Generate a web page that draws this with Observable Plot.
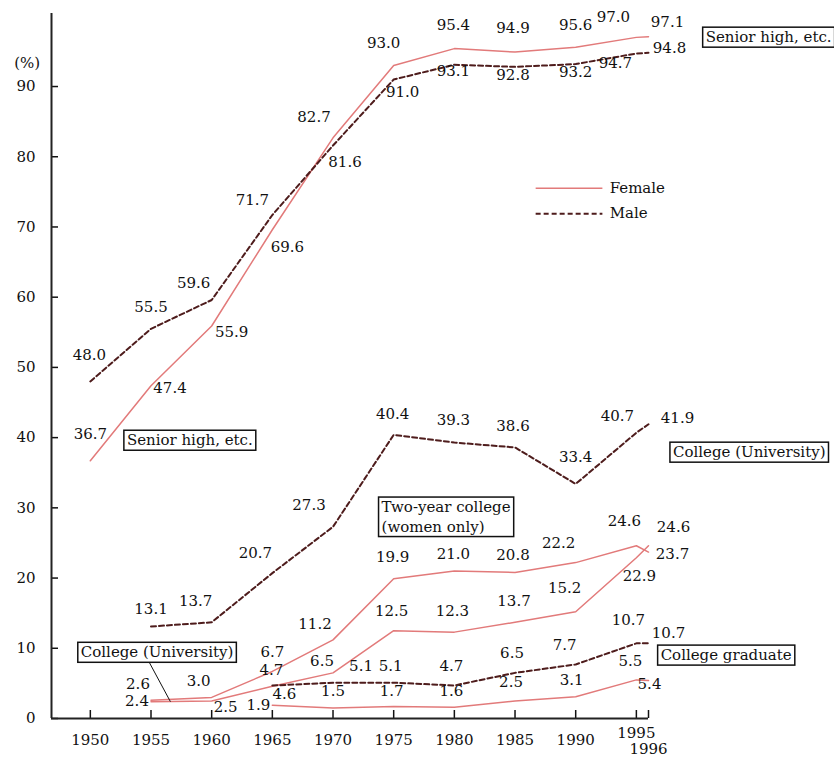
<!DOCTYPE html>
<html><head><meta charset="utf-8">
<script src="https://cdn.jsdelivr.net/npm/d3@7"></script>
<script src="https://cdn.jsdelivr.net/npm/@observablehq/plot@0.6"></script>
<style>html,body{margin:0;padding:0;background:#fff;}</style>
</head><body><div id="chart"></div>
<script>
// ---- data ----
const years = [1950, 1955, 1960, 1965, 1970, 1975, 1980, 1985, 1990, 1995, 1996];
const seniorFemale = [36.7, 47.4, 55.9, 69.6, 82.7, 93.0, 95.4, 94.9, 95.6, 97.0, 97.1];
const seniorMale   = [48.0, 55.5, 59.6, 71.7, 81.6, 91.0, 93.1, 92.8, 93.2, 94.7, 94.8];
const univMale     = [null, 13.1, 13.7, 20.7, 27.3, 40.4, 39.3, 38.6, 33.4, 40.7, 41.9];
const univFemale   = [null, 2.4, 2.5, 4.6, 6.5, 12.5, 12.3, 13.7, 15.2, 22.9, 24.6];
const twoYearFemale= [null, 2.6, 3.0, 6.7, 11.2, 19.9, 21.0, 20.8, 22.2, 24.6, 23.7];
const gradMale     = [null, null, null, 4.7, 5.1, 5.1, 4.7, 6.5, 7.7, 10.7, 10.7];
const gradFemale   = [null, null, null, 1.9, 1.5, 1.7, 1.6, 2.5, 3.1, 5.5, 5.4];
const xTicksMain = [1950, 1955, 1960, 1965, 1970, 1975, 1980, 1985, 1990];
const yTicks = [0, 10, 20, 30, 40, 50, 60, 70, 80, 90];
const legendItems = ["Female", "Male"];

// ---- layout (label offsets in px, annotation placement) ----
const offSeniorFemale = [[0,-27],[19,3],[20,6],[15,17],[-19,-21],[-10,-22],[-1,-23],[-2,-24],[0,-22],[-23,-20],[19,-14]];
const offSeniorMale   = [[-1,-26],[0,-22],[-18,-17],[-20,-15],[12,17],[9,13],[-1,6],[-2,8],[0,8],[-21,10],[21,-5]];
const offUnivMale     = [null,[0,-17],[-16,-21],[-17,-20],[-24,-22],[-1,-21],[-1,-22],[-2,-21],[0,-27],[-19,-17],[29,-6]];
const offUnivFemale   = [null,[-14,0],[14,6],[12,8],[-11,-12],[-2,-20],[-2,-21],[-1,-21],[-11,-24],[3,18],[25,-19]];
const offTwoYear      = [null,[-13,-16],[-13,-16],[0,-19],[-18,-16],[-1,-22],[-1,-17],[-2,-17],[-17,-19],[-12,-25],[24,2]];
const offGradMale     = [null,null,null,[-1,-15],[28,-17],[-3,-17],[-3,-19],[-3,-20],[-11,-19],[-8,-23],[20,-10]];
const offGradFemale   = [null,null,null,[-14,0],[0,-17],[-2,-15],[-3,-16],[-4,-19],[-4,-17],[-6,-19],[1,4]];

const FEMALE = "#e27a7a", MALE = "#4e1c1c", INK = "#111";

const seriesDefs = [
  {key: "seniorFemale", sex: "Female", values: seniorFemale, off: offSeniorFemale},
  {key: "seniorMale", sex: "Male", values: seniorMale, off: offSeniorMale},
  {key: "univMale", sex: "Male", values: univMale, off: offUnivMale},
  {key: "univFemale", sex: "Female", values: univFemale, off: offUnivFemale},
  {key: "twoYear", sex: "Female", values: twoYearFemale, off: offTwoYear},
  {key: "gradMale", sex: "Male", values: gradMale, off: offGradMale},
  {key: "gradFemale", sex: "Female", values: gradFemale, off: offGradFemale}
];

const rows = seriesDefs.flatMap(s => years.map((yr, i) => ({
  series: s.key, sex: s.sex, year: yr, value: s.values[i], off: s.off[i]
})).filter(r => r.value != null));

const labelMarks = rows.map(r => Plot.text([r], {
  x: "year", y: "value", text: d => d.value.toFixed(1),
  dx: r.off[0], dy: r.off[1], fill: INK
}));

const boxedLabels = [
  {text: "Senior high, etc.", x: 2005.9, y: 97.0},
  {text: "Senior high, etc.", x: 1958.2, y: 39.6},
  {text: "College (University)", x: 2004.3, y: 37.9},
  {text: "College (University)", x: 1955.5, y: 9.4},
  {text: "College graduate", x: 2002.4, y: 9.0}
];
const twoYearBox = [{text: "Two-year college\n(women only)", x: 1974.0, y: 28.9}];
const leader = [{x1: 1954.7, y1: 8.5, x2: 1956.6, y2: 2.4}];
const legendPos = {x1: 1986.7, x2: 1992.2, xText: 1992.8, y: [75.5, 71.9]};

const X0 = 1946.8;

const chart = Plot.plot({
  width: 834, height: 758,
  marginLeft: 51, marginRight: 186, marginTop: 13, marginBottom: 40,
  style: {fontFamily: "'DejaVu Serif', serif", fontSize: "15px", color: INK, background: "#fff"},
  x: {domain: [X0, 1996]},
  y: {domain: [0, 100.4]},
  marks: [
    Plot.axisY({ticks: yTicks, tickSize: -7, tickPadding: 23, tickFormat: d => String(d), label: null, strokeWidth: 1.5}),
    Plot.axisX({ticks: xTicksMain, tickSize: -8, tickPadding: 24, tickFormat: d => String(d), label: null, strokeWidth: 1.5}),
    Plot.axisX({ticks: [1995], tickSize: -8, tickPadding: 17, tickFormat: d => String(d), label: null, strokeWidth: 1.5}),
    Plot.axisX({ticks: [1996], tickSize: -8, tickPadding: 33, tickFormat: d => String(d), label: null, strokeWidth: 1.5}),
    Plot.ruleY([0], {stroke: "#222", strokeWidth: 2}),
    Plot.ruleX([X0], {stroke: "#222", strokeWidth: 2}),
    Plot.text(["(%)"], {x: 1944.8, y: 93.3, text: d => d, fill: INK}),
    Plot.line(rows.filter(r => r.sex === "Female"), {x: "year", y: "value", z: "series", stroke: FEMALE, strokeWidth: 1.5}),
    Plot.line(rows.filter(r => r.sex === "Male"), {x: "year", y: "value", z: "series", stroke: MALE, strokeWidth: 2, strokeDasharray: "5,3"}),
    ...labelMarks,
    Plot.link(leader, {x1: "x1", y1: "y1", x2: "x2", y2: "y2", stroke: INK, strokeWidth: 1}),
    Plot.text(boxedLabels, {x: "x", y: "y", text: "text", fill: INK}),
    Plot.text(twoYearBox, {x: "x", y: "y", text: "text", fill: INK, textAnchor: "start", lineHeight: 1.3}),
    // legend
    Plot.link([legendItems[0]], {x1: legendPos.x1, x2: legendPos.x2, y1: legendPos.y[0], y2: legendPos.y[0], stroke: FEMALE, strokeWidth: 1.5}),
    Plot.link([legendItems[1]], {x1: legendPos.x1, x2: legendPos.x2, y1: legendPos.y[1], y2: legendPos.y[1], stroke: MALE, strokeWidth: 2, strokeDasharray: "5,3"}),
    Plot.text(legendItems, {x: legendPos.xText, y: (d, i) => legendPos.y[i], text: d => d, textAnchor: "start", fill: INK})
  ]
});

document.getElementById("chart").appendChild(chart);

// draw frames around the annotation labels, sized from the text itself
const boxedTexts = new Set(boxedLabels.map(d => d.text).concat(twoYearBox.map(d => d.text.replace("\n", ""))));
chart.querySelectorAll("text").forEach(node => {
  if (!boxedTexts.has(node.textContent)) return;
  const b = node.getBBox();
  const rect = document.createElementNS("http://www.w3.org/2000/svg", "rect");
  rect.setAttribute("x", b.x - 3);
  rect.setAttribute("y", b.y - 1);
  rect.setAttribute("width", b.width + 6);
  rect.setAttribute("height", b.height + 2);
  rect.setAttribute("fill", "#fff");
  rect.setAttribute("stroke", INK);
  rect.setAttribute("stroke-width", 1.5);
  const t = node.getAttribute("transform");
  if (t) rect.setAttribute("transform", t);
  node.parentNode.insertBefore(rect, node);
});
</script>
</body></html>
